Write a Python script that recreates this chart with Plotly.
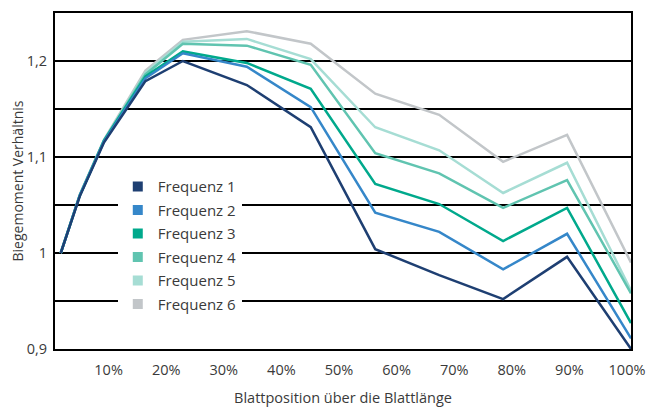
import plotly.graph_objects as go

positions = [1.0, 4.3, 8.5, 15.7, 22.2, 33.3, 44.4, 55.6, 66.7, 77.8, 88.9, 100.0]

frequenz_1 = [1.0, 1.059, 1.115, 1.179, 1.200, 1.175, 1.131, 1.004, 0.977, 0.952, 0.996, 0.900]
frequenz_2 = [1.0, 1.060, 1.116, 1.182, 1.208, 1.194, 1.152, 1.042, 1.022, 0.983, 1.020, 0.911]
frequenz_3 = [1.0, 1.060, 1.117, 1.184, 1.210, 1.198, 1.171, 1.072, 1.051, 1.0125, 1.047, 0.927]
frequenz_4 = [1.0, 1.060, 1.117, 1.186, 1.218, 1.216, 1.196, 1.104, 1.083, 1.047, 1.076, 0.958]
frequenz_5 = [1.0, 1.060, 1.117, 1.188, 1.220, 1.223, 1.202, 1.131, 1.107, 1.0625, 1.094, 0.961]
frequenz_6 = [1.0, 1.061, 1.118, 1.190, 1.222, 1.231, 1.218, 1.166, 1.144, 1.095, 1.123, 0.990]

series_names = ["Frequenz 1", "Frequenz 2", "Frequenz 3", "Frequenz 4", "Frequenz 5", "Frequenz 6"]
series_values = [frequenz_1, frequenz_2, frequenz_3, frequenz_4, frequenz_5, frequenz_6]
colors = ["#1e3f72", "#3587c9", "#00a98c", "#60c4b0", "#a6ddd4", "#c2c6c9"]

x_tickvals = [10, 20, 30, 40, 50, 60, 70, 80, 90, 100]
x_ticktext = ["10%", "20%", "30%", "40%", "50%", "60%", "70%", "80%", "90%", "100%"]
y_tickvals = [0.9, 0.95, 1.0, 1.05, 1.1, 1.15, 1.2, 1.25]
y_ticktext = ["0,9", "", "1", "", "1,1", "", "1,2", ""]

FONT = "Open Sans"
TEXT = "#3a3a3a"

fig = go.Figure()

# lines (drawn in reverse so Frequenz 1 sits on top)
for name, vals, col in reversed(list(zip(series_names, series_values, colors))):
    fig.add_trace(go.Scatter(
        x=positions, y=vals, mode="lines", name=name,
        line=dict(color=col, width=2.5), showlegend=False,
        hoverinfo="x+y+name",
    ))

# legend entries with square symbols
for i, (name, col) in enumerate(zip(series_names, colors)):
    fig.add_trace(go.Scatter(
        x=[None], y=[None], mode="markers", name=name,
        marker=dict(symbol="square", size=10, color=col),
        legendgroup=f"g{i}", showlegend=True,
    ))

# the page body adds an 8px offset, so margins are reduced accordingly
fig.update_layout(
    width=654, height=407,
    margin=dict(l=47, r=31, t=5, b=66, autoexpand=False),
    paper_bgcolor="white", plot_bgcolor="white",
    font=dict(family=FONT, size=14.5, color=TEXT),
    showlegend=True,
    legend=dict(
        x=0.109, y=0.532, xanchor="left", yanchor="top",
        bgcolor="white", borderwidth=0,
        font=dict(family=FONT, size=15, color=TEXT),
        tracegroupgap=1, itemwidth=30,
    ),
    xaxis=dict(
        range=[0, 100], tickvals=x_tickvals, ticktext=x_ticktext,
        showgrid=False, zeroline=False,
        showline=True, linecolor="black", linewidth=2, mirror=True,
        ticks="", ticklabelshift=-4, ticklabelstandoff=7,
        tickfont=dict(family=FONT, size=14.5, color=TEXT),
        title=dict(text="Blattposition über die Blattlänge", standoff=14,
                   font=dict(family=FONT, size=14.5, color=TEXT)),
    ),
    yaxis=dict(
        range=[0.9, 1.25], tickvals=y_tickvals, ticktext=y_ticktext,
        showgrid=True, gridcolor="black", gridwidth=1.6, zeroline=False,
        showline=True, linecolor="black", linewidth=2, mirror=True,
        ticks="", ticklabelstandoff=3,
        tickfont=dict(family=FONT, size=14.5, color=TEXT),
        title=dict(text="Biegemoment Verhältnis", standoff=4,
                   font=dict(family=FONT, size=14, color=TEXT)),
    ),
)

fig.write_html("out.html")
